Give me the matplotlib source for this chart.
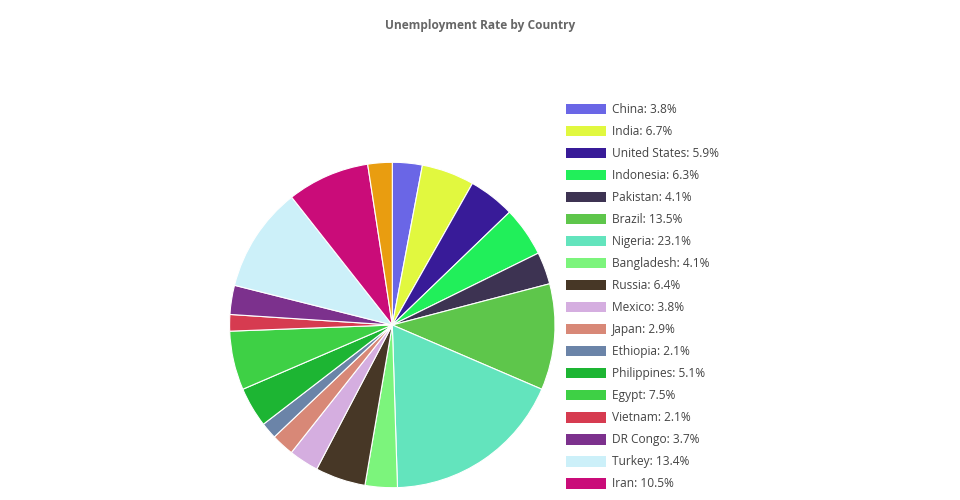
import matplotlib
matplotlib.use("Agg")
import matplotlib.pyplot as plt

plt.rcParams['font.family'] = ['Open Sans', 'DejaVu Sans']

countries = ['China', 'India', 'United States', 'Indonesia', 'Pakistan', 'Brazil',
             'Nigeria', 'Bangladesh', 'Russia', 'Mexico', 'Japan', 'Ethiopia',
             'Philippines', 'Egypt', 'Vietnam', 'DR Congo', 'Turkey', 'Iran', 'Germany']
rates = [3.8, 6.7, 5.9, 6.3, 4.1, 13.5, 23.1, 4.1, 6.4, 3.8, 2.9, 2.1,
         5.1, 7.5, 2.1, 3.7, 13.4, 10.5, 3.1]
colors = ['#6a66e6', '#e1f83f', '#381b98', '#21ef5a', '#3d3352', '#5ec64b',
          '#63e4bd', '#7cf47c', '#473726', '#d5aee0', '#d88877', '#6b84a8',
          '#1db533', '#3ed045', '#d63b50', '#7c318d', '#ccf0f9', '#ca0c79', '#e99d10']

labels = [f'{c}: {r}%' for c, r in zip(countries, rates)]

fig = plt.figure(figsize=(9.6, 5), dpi=100)
fig.text(0.5, 1 - 25 / 500, 'Unemployment Rate by Country', ha='center', va='center',
         fontsize=8.6, fontweight='bold', color='#666666')

# pie axes: centre (392, 325) px, radius ~163 px
ax = fig.add_axes([(392.3 - 162.7) / 960, (175 - 162.7) / 500, 325.4 / 960, 325.4 / 500])
wedges, _ = ax.pie(rates, colors=colors, startangle=90, counterclock=False, radius=1,
                   wedgeprops=dict(edgecolor='white', linewidth=0.8))
ax.set_xlim(-1, 1)
ax.set_ylim(-1, 1)
ax.set_aspect('equal')
ax.axis('off')

# the original legend only has room for the first 18 entries
n_shown = 18
leg = fig.legend(wedges[:n_shown], labels[:n_shown], loc='upper left',
                 bbox_to_anchor=(566 / 960, 1 - 103 / 500),
                 frameon=False, fontsize=8.6, handlelength=3.33, handleheight=1.0,
                 handletextpad=0.5, labelspacing=0.755, borderpad=0, borderaxespad=0)
for t in leg.get_texts():
    t.set_color('#444444')
for h in leg.legend_handles:
    h.set_edgecolor('none')

fig.savefig('out.png', dpi=100)
